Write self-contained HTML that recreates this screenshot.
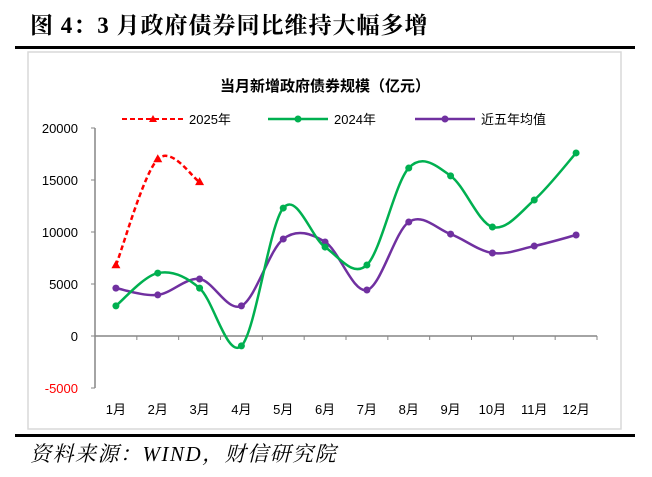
<!DOCTYPE html>
<html><head><meta charset="utf-8"><style>
body{margin:0;width:652px;height:477px;background:#fff;overflow:hidden;position:relative;font-family:"Liberation Sans","Noto Sans CJK SC",sans-serif}
#title{position:absolute;left:30px;top:7px;font-family:"Liberation Serif","Noto Serif CJK SC",serif;font-weight:bold;font-size:23px;letter-spacing:1px;color:#000}
.rule{position:absolute;left:15px;width:620px;height:3px;background:#000}
#src{position:absolute;left:30px;top:438px;font-family:"Liberation Serif","Noto Serif CJK SC",serif;font-style:italic;font-size:21px;letter-spacing:1.5px}
</style></head><body>
<div id="title">图 4：3 月政府债券同比维持大幅多增</div>
<div class="rule" style="top:46px"></div>
<svg width="652" height="477" style="position:absolute;left:0;top:0" id="chart">
<rect x="28" y="52" width="593" height="377" fill="#fff" stroke="#d9d9d9" stroke-width="1.5"/>
<text x="325" y="91" text-anchor="middle" font-size="15" font-weight="bold" font-family="Liberation Sans,Noto Sans CJK SC,sans-serif">当月新增政府债券规模（亿元）</text>
<g id="legend" font-size="13">
<g><line x1="122" y1="119" x2="184" y2="119" stroke="#ff0000" stroke-width="2" stroke-dasharray="5,3"/><path d="M153 115 L157 122 L149 122Z" fill="#ff0000"/><text x="189" y="124">2025年</text></g>
<g><line x1="268" y1="119" x2="328" y2="119" stroke="#00b050" stroke-width="2.5"/><circle cx="298" cy="119" r="3.5" fill="#00b050"/><text x="334" y="124">2024年</text></g>
<g><line x1="415" y1="119" x2="475" y2="119" stroke="#7030a0" stroke-width="2.5"/><circle cx="445" cy="119" r="3.5" fill="#7030a0"/><text x="481" y="124">近五年均值</text></g>
</g>
<g id="axes"></g><g id="series"></g>
</svg>
<div class="rule" style="top:434px"></div>
<div id="src">资料来源：WIND，财信研究院</div>
<script>
const months=["1月","2月","3月","4月","5月","6月","7月","8月","9月","10月","11月","12月"];
const yTicks=[-5000,0,5000,10000,15000,20000];
const s2025=[6800,17000,14800];
const s2024=[2900,6050,4600,-950,12300,8550,6830,16150,15400,10480,13080,17600];
const s5yr=[4600,3950,5480,2900,9330,9040,4420,10960,9800,7980,8650,9710];
const NS="http://www.w3.org/2000/svg";
const x0=95,x1=597,yZero=336,pxPer=208/20000;
const step=(x1-x0)/months.length;
const X=i=>x0+step*(i+0.5);
const Y=v=>yZero-v*pxPer;
function mk(t,a,p){const e=document.createElementNS(NS,t);for(const k in a)e.setAttribute(k,a[k]);p.appendChild(e);return e;}
const ax=document.getElementById('axes');
const yl=mk('line',{x1:x0,y1:Y(20000),x2:x0,y2:Y(-5000),stroke:'#868686','stroke-width':1.5},ax);


yTicks.forEach(v=>{
 mk('line',{x1:x0-4,y1:Y(v),x2:x0,y2:Y(v),stroke:'#868686'},ax);
 const t=mk('text',{x:x0-17,y:Y(v)+5,'text-anchor':'end','font-size':13,fill:v<0?'#ff0000':'#000'},ax);
 t.textContent=v;
 
 
});
const xl=mk('line',{x1:x0,y1:yZero,x2:x1,y2:yZero,stroke:'#868686','stroke-width':1.5},ax);


months.forEach((m,i)=>{
 mk('line',{x1:x0+step*(i+1),y1:yZero,x2:x0+step*(i+1),y2:yZero+4,stroke:'#868686'},ax);
 const t=mk('text',{x:X(i),y:414,'text-anchor':'middle','font-size':13},ax);
 t.textContent=m;
 
 
});
function smooth(pts){
 let d=`M${pts[0][0]},${pts[0][1]}`;
 for(let i=0;i<pts.length-1;i++){
  const p0=pts[i-1]||pts[i],p1=pts[i],p2=pts[i+1],p3=pts[i+2]||p2,k=1/3;
  const c1=[p1[0]+(p2[0]-p0[0])*k/2,p1[1]+(p2[1]-p0[1])*k/2];
  const c2=[p2[0]-(p3[0]-p1[0])*k/2,p2[1]-(p3[1]-p1[1])*k/2];
  d+=` C${c1[0]},${c1[1]} ${c2[0]},${c2[1]} ${p2[0]},${p2[1]}`;
 }
 return d;
}
const sg=document.getElementById('series');
function series(vals,color,name,dash,marker){
 const pts=vals.map((v,i)=>[X(i),Y(v)]);
 const p=mk('path',{d:smooth(pts),fill:'none',stroke:color,'stroke-width':2.5},sg);
 if(dash)p.setAttribute('stroke-dasharray',dash);
 
 
 pts.forEach(q=>{
  let m;
  if(marker==='tri')m=mk('path',{d:`M${q[0]} ${q[1]-5} L${q[0]+4.5} ${q[1]+3} L${q[0]-4.5} ${q[1]+3}Z`,fill:color},sg);
  else m=mk('circle',{cx:q[0],cy:q[1],r:3.5,fill:color},sg);
  
  
 });
}
series(s5yr,'#7030a0','avg-5yr',null,'circle');
series(s2024,'#00b050','series-2024',null,'circle');
series(s2025,'#ff0000','series-2025','5,3','tri');
</script>
</body></html>
